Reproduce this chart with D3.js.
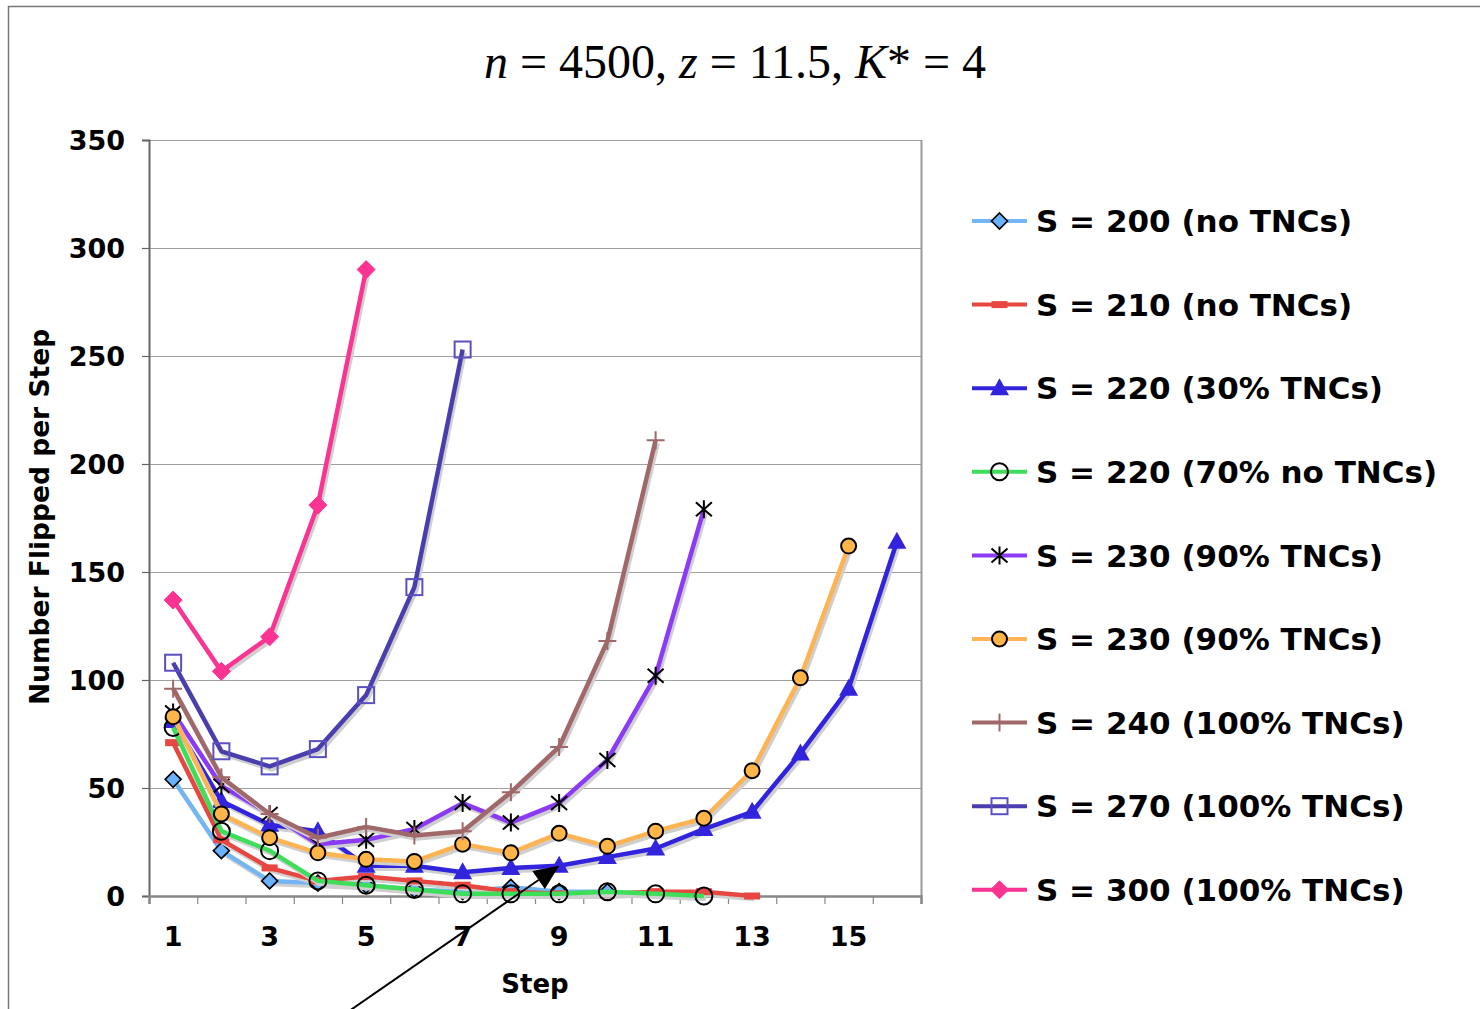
<!DOCTYPE html>
<html>
<head>
<meta charset="utf-8">
<script src="https://cdn.jsdelivr.net/npm/d3@7"></script>
<style>
  body { margin: 0; background: #fff; }
  svg { display: block; }
  .tick-label { font-family: "DejaVu Sans", Verdana, sans-serif; font-weight: bold; font-size: 27px; }
  .legend-label { font-family: "DejaVu Sans", Verdana, sans-serif; font-weight: bold; font-size: 31px; }
</style>
</head>
<body>
<div id="chart"></div>
<script>
// values, one entry per step starting at step 1
var xTickLabels = [1, 3, 5, 7, 9, 11, 13, 15];
var yTicks = [0, 50, 100, 150, 200, 250, 300, 350];

var s200 = [54, 21, 7, 6, 5, 3, 2, 4, 2, 2];
var s210 = [71, 26, 13, 7, 9, 7, 5, 2, 1, 1, 2, 2, 0];
var s220a = [81, 44, 33, 30, 14, 14, 11, 13, 14, 18, 22, 31, 39, 66, 96, 164];
var s220b = [78, 30, 21, 7, 5, 3, 1, 1, 1, 2, 1, 0];
var s230a = [85, 51, 38, 24, 26, 31, 43, 34, 43, 63, 102, 179];
var s230b = [83, 38, 27, 20, 17, 16, 24, 20, 29, 23, 30, 36, 58, 101, 162];
var s240 = [96, 55, 38, 27, 32, 28, 30, 48, 69, 118, 211];
var s270 = [108, 67, 60, 68, 93, 143, 253];
var s300 = [137, 104, 120, 181, 290];

var seriesNames = ["S = 200 (no TNCs)", "S = 210 (no TNCs)", "S = 220 (30% TNCs)",
  "S = 220 (70% no TNCs)", "S = 230 (90% TNCs)", "S = 230 (90% TNCs)",
  "S = 240 (100% TNCs)", "S = 270 (100% TNCs)", "S = 300 (100% TNCs)"];

var series = [
  {name: seriesNames[0], values: s200, color: "#74b6f4", marker: "diamond", fill: "#6ab2ff"},
  {name: seriesNames[1], values: s210, color: "#e84640", marker: "dash", fill: "#e84640"},
  {name: seriesNames[2], values: s220a, color: "#3124dc", marker: "triangle", fill: "#3124dc"},
  {name: seriesNames[3], values: s220b, color: "#3ede5a", marker: "ocircle", fill: "none"},
  {name: seriesNames[4], values: s230a, color: "#8b3af5", marker: "asterisk", fill: "none"},
  {name: seriesNames[5], values: s230b, color: "#ffb454", marker: "circle", fill: "#ffb547"},
  {name: seriesNames[6], values: s240, color: "#a06868", marker: "plus", fill: "none"},
  {name: seriesNames[7], values: s270, color: "#4a3eae", marker: "square", fill: "none"},
  {name: seriesNames[8], values: s300, color: "#fb3393", marker: "bigdiamond", fill: "#fb3393"}
];

var W = 1480, H = 1009;
var svg = d3.select("#chart").append("svg").attr("width", W).attr("height", H);

// outer frame
svg.append("path")
  .attr("d", "M8.5," + H + "V6.5H" + W)
  .attr("fill", "none").attr("stroke", "#777").attr("stroke-width", 1.5);

var x = d3.scaleLinear().domain([0.5, 16.5]).range([149, 921]);
var y = d3.scaleLinear().domain([0, 350]).range([896, 140]);

// title
var title = svg.append("text")
  .attr("x", 735).attr("y", 78)
  .attr("text-anchor", "middle")
  .style("font-family", "'Liberation Serif', 'Times New Roman', serif")
  .style("font-size", "48px");
title.append("tspan").style("font-style", "italic").text("n");
title.append("tspan").text(" = 4500, ");
title.append("tspan").style("font-style", "italic").text("z");
title.append("tspan").text(" = 11.5, ");
title.append("tspan").style("font-style", "italic").text("K");
title.append("tspan").text("* = 4");

// grid
svg.append("g").selectAll("line").data(yTicks.slice(1))
  .join("line")
  .attr("x1", x(0.5)).attr("x2", x(16.5))
  .attr("y1", d => y(d) + 0.5).attr("y2", d => y(d) + 0.5)
  .attr("stroke", "#a0a0a0").attr("stroke-width", 1.2);

// plot border on the right
svg.append("line")
  .attr("x1", x(16.5) + 0.5).attr("x2", x(16.5) + 0.5)
  .attr("y1", y(350)).attr("y2", y(0))
  .attr("stroke", "#999").attr("stroke-width", 2);

// y axis
var yAxis = svg.append("g")
  .attr("transform", `translate(${x(0.5)},0)`)
  .call(d3.axisLeft(y).tickValues(yTicks).tickSize(7).tickPadding(17));
yAxis.select(".domain").attr("stroke", "#666").attr("stroke-width", 2);
yAxis.selectAll(".tick line").attr("stroke", "#666").attr("stroke-width", 1.2);
yAxis.selectAll(".tick text").attr("class", "tick-label").attr("fill", "#000").attr("dy", "0.36em");

// x axis: boundary ticks, labels on odd steps
var xAxis = svg.append("g")
  .attr("transform", `translate(0,${y(0)})`)
  .call(d3.axisBottom(x).tickValues(d3.range(0.5, 17, 1)).tickSize(8).tickFormat(""));
xAxis.select(".domain").attr("stroke", "#888").attr("stroke-width", 2.5);
xAxis.selectAll(".tick line").attr("stroke", "#888").attr("stroke-width", 1.2);

svg.append("g").selectAll("text").data(xTickLabels)
  .join("text")
  .attr("class", "tick-label")
  .attr("x", d => x(d)).attr("y", 946)
  .attr("text-anchor", "middle")
  .text(d => d);

// axis titles
svg.append("text")
  .attr("class", "tick-label")
  .attr("x", 535).attr("y", 993)
  .attr("text-anchor", "middle")
  .style("font-size", "26px")
  .text("Step");

svg.append("text")
  .attr("class", "tick-label")
  .attr("transform", "translate(49,517) rotate(-90)")
  .attr("text-anchor", "middle")
  .style("font-size", "26.5px")
  .text("Number Flipped per Step");

// markers
function drawMarker(g, type, cx, cy, s) {
  var color = s.color;
  if (type === "diamond") {
    g.append("path").attr("d", `M${cx},${cy-8}L${cx+8},${cy}L${cx},${cy+8}L${cx-8},${cy}Z`)
      .attr("fill", s.fill).attr("stroke", "#000").attr("stroke-width", 1.6);
  } else if (type === "bigdiamond") {
    g.append("path").attr("d", `M${cx},${cy-9}L${cx+9},${cy}L${cx},${cy+9}L${cx-9},${cy}Z`)
      .attr("fill", s.fill).attr("stroke", s.fill).attr("stroke-width", 1);
  } else if (type === "dash") {
    g.append("rect").attr("x", cx - 8).attr("y", cy - 3.5).attr("width", 16).attr("height", 7)
      .attr("fill", s.fill);
  } else if (type === "triangle") {
    g.append("path").attr("d", `M${cx},${cy-10}L${cx+9.5},${cy+7}L${cx-9.5},${cy+7}Z`)
      .attr("fill", s.fill);
  } else if (type === "ocircle") {
    g.append("circle").attr("cx", cx).attr("cy", cy).attr("r", 8.5)
      .attr("fill", "none").attr("stroke", "#000").attr("stroke-width", 2);
  } else if (type === "circle") {
    g.append("circle").attr("cx", cx).attr("cy", cy).attr("r", 7.5)
      .attr("fill", s.fill).attr("stroke", "#000").attr("stroke-width", 2);
  } else if (type === "asterisk") {
    g.append("path")
      .attr("d", `M${cx},${cy-9}V${cy+9}M${cx-8},${cy-7}L${cx+8},${cy+7}M${cx-8},${cy+7}L${cx+8},${cy-7}`)
      .attr("stroke", "#000").attr("stroke-width", 2).attr("fill", "none");
  } else if (type === "plus") {
    g.append("path")
      .attr("d", `M${cx},${cy-9}V${cy+9}M${cx-9},${cy}H${cx+9}`)
      .attr("stroke", color).attr("stroke-width", 2).attr("fill", "none");
  } else if (type === "square") {
    g.append("rect").attr("x", cx - 8).attr("y", cy - 8).attr("width", 16).attr("height", 16)
      .attr("fill", "none").attr("stroke", "#5a50c2").attr("stroke-width", 2);
  }
}

var line = d3.line().x((d, i) => x(i + 1)).y(d => y(d));

var plot = svg.append("g");
series.forEach(s => {
  var g = plot.append("g");
  g.append("path").attr("d", line(s.values))
    .attr("transform", "translate(2,3)")
    .attr("fill", "none").attr("stroke", "#cfcfcf").attr("stroke-width", 4.5)
    .attr("stroke-linejoin", "round");
  g.append("path").attr("d", line(s.values))
    .attr("fill", "none").attr("stroke", s.color).attr("stroke-width", 4.5)
    .attr("stroke-linejoin", "round");
  s.values.forEach((v, i) => drawMarker(g, s.marker, x(i + 1), y(v), s));
});

// annotation arrow pointing at the S = 220 (30% TNCs) curve
var arrowFrom = [4.6, -54], arrowTo = [9.0, 14];
var ax0 = x(arrowFrom[0]), ay0 = y(arrowFrom[1]), ax1 = x(arrowTo[0]), ay1 = y(arrowTo[1]);
var ang = Math.atan2(ay1 - ay0, ax1 - ax0);
var hl = 25, hw = 11;
var bx = ax1 - hl * Math.cos(ang), by = ay1 - hl * Math.sin(ang);
svg.append("line").attr("x1", ax0).attr("y1", ay0).attr("x2", bx).attr("y2", by)
  .attr("stroke", "#000").attr("stroke-width", 2);
svg.append("path")
  .attr("d", `M${ax1},${ay1}L${bx + hw * Math.sin(ang)},${by - hw * Math.cos(ang)}L${bx - hw * Math.sin(ang)},${by + hw * Math.cos(ang)}Z`)
  .attr("fill", "#000");

// legend
var legend = svg.append("g");
series.forEach((s, i) => {
  var ly = 221 + i * 83.6;
  var g = legend.append("g");
  g.append("line").attr("x1", 972).attr("x2", 1027).attr("y1", ly).attr("y2", ly)
    .attr("stroke", s.color).attr("stroke-width", 4);
  drawMarker(g, s.marker, 999.5, ly, s);
  g.append("text").attr("class", "legend-label")
    .attr("x", 1036).attr("y", ly).attr("dy", "0.36em")
    .text(s.name);
});
</script>
</body>
</html>
